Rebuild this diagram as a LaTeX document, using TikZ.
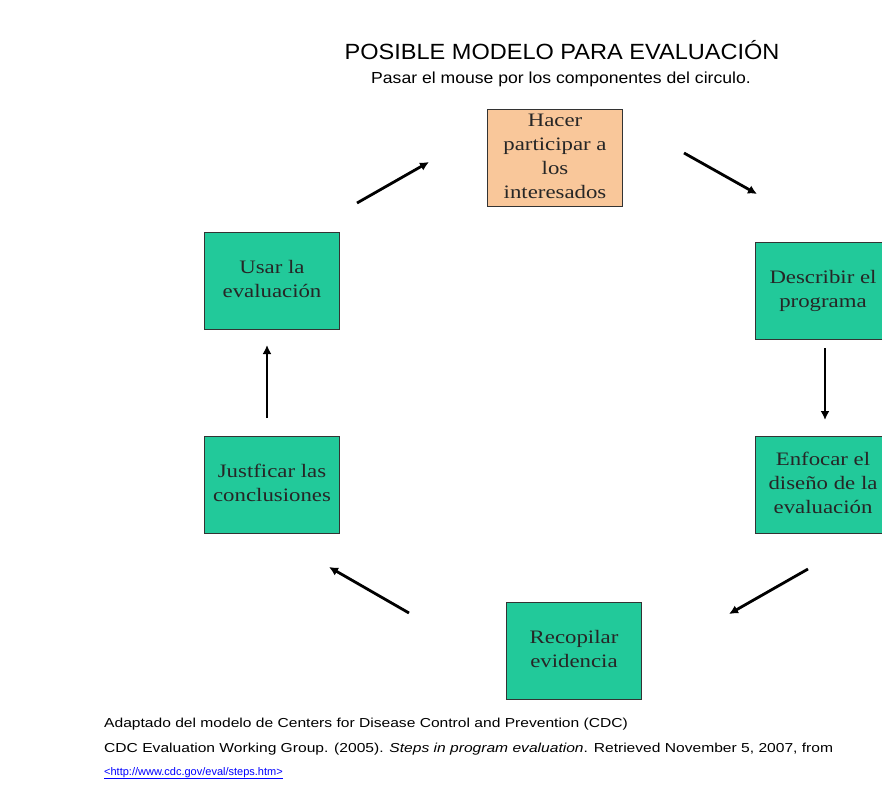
\documentclass[tikz,border=0pt]{standalone}
\usepackage{fontspec}
\usepackage{graphicx}
\setmainfont{Liberation Serif}
\setsansfont{Liberation Sans}
\usetikzlibrary{arrows.meta}
\definecolor{stepgreen}{HTML}{22C99A}
\definecolor{steppeach}{HTML}{F9C79A}
\newcommand\widetext[2][1.2]{\scalebox{#1}[1]{\begin{tabular}{@{}c@{}}#2\end{tabular}}}
\tikzset{
  stepbox/.style={draw=black!80, fill=stepgreen, minimum width=135pt, minimum height=97pt,
    inner sep=0pt, text=black!85, font=\fontsize{19}{24}\selectfont},
  cyclearrow/.style={line width=2.8pt, -{Latex[length=9pt,width=9pt]}},
  source/.style={anchor=base west, inner sep=0pt, font=\sffamily\fontsize{13}{15}\selectfont}
}
\begin{document}
\begin{tikzpicture}[x=1pt,y=-1pt]
  \useasboundingbox (0,0) rectangle (882,784);
  \node[font=\sffamily\fontsize{22}{24}\selectfont] (title) at (562,50) {\scalebox{1.07}[1]{POSIBLE MODELO PARA EVALUACIÓN}};
  \node[font=\sffamily\fontsize{16}{18}\selectfont] (hint) at (561,79) {\scalebox{1.1}[1]{Pasar el mouse por los componentes del circulo.}};
  % the six steps
  \node[stepbox, fill=steppeach] (hacer) at (555,158) {\widetext{Hacer\\participar a\\los\\interesados}};
  \node[stepbox] (describir) at (823,291) {\widetext{Describir el\\programa}};
  \node[stepbox] (enfocar) at (823,485) {\widetext{Enfocar el\\diseño de la\\evaluación}};
  \node[stepbox] (recopilar) at (574,651) {\widetext{Recopilar\\evidencia}};
  \node[stepbox] (justificar) at (272,485) {\widetext{Justficar las\\conclusiones}};
  \node[stepbox] (usar) at (272,281) {\widetext{Usar la\\evaluación}};
  % arrow ends
  \coordinate (a1) at (357,203); \coordinate (b1) at (429,162);
  \coordinate (a2) at (684,153); \coordinate (b2) at (757,194);
  \coordinate (a3) at (825,348); \coordinate (b3) at (825,420);
  \coordinate (a4) at (808,569); \coordinate (b4) at (729,614);
  \coordinate (a5) at (409,613); \coordinate (b5) at (329,567);
  \coordinate (a6) at (267,418); \coordinate (b6) at (267,345);
  \foreach \i in {1,...,6}
    \draw[cyclearrow] (a\i) -- (b\i);
  % source
  \node[source] (adapt) at (104,727) {\scalebox{1.2}[1]{Adaptado del modelo de Centers for Disease Control and Prevention (CDC)}};
  \node[source] (ref) at (104,752) {\scalebox{1.2}[1]{CDC Evaluation Working Group. (2005). \textit{Steps in program evaluation}. Retrieved November 5, 2007, from}};
  \node[source, font=\sffamily\fontsize{11}{13}\selectfont, text=blue] (link) at (104,775) {\underline{<http://www.cdc.gov/eval/steps.htm>}};
\end{tikzpicture}
\end{document}
